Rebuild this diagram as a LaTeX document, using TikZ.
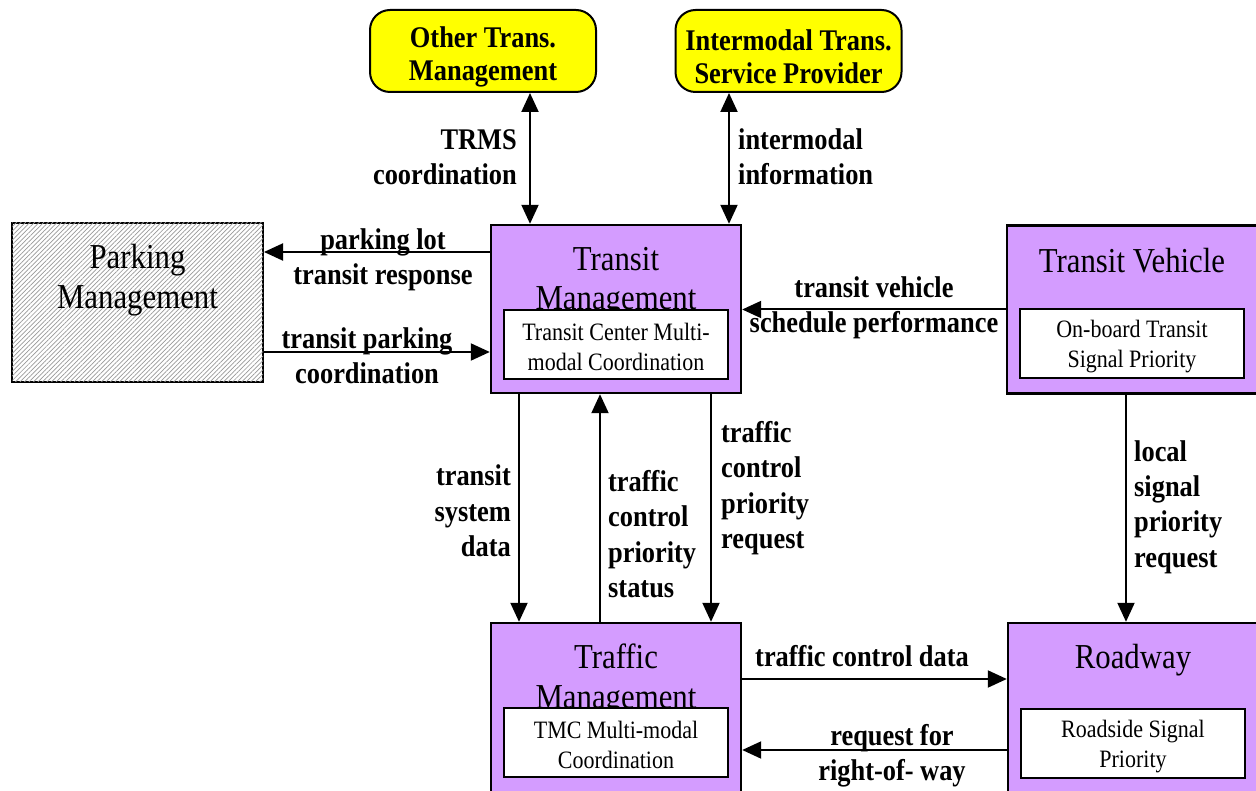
\documentclass[tikz,border=0pt]{standalone}
\usepackage{fontspec}
\setmainfont{Liberation Serif}[FakeStretch=0.88]
\usetikzlibrary{arrows.meta,patterns.meta,calc}
\definecolor{boxpurple}{RGB}{212,156,255}
\definecolor{boxyellow}{RGB}{255,255,0}
\begin{document}
\begin{tikzpicture}[x=1pt,y=-1pt,
  outerbox/.style={draw=black,line width=2.4pt,fill=boxpurple,minimum width=250pt,inner sep=0pt},
  innerbox/.style={draw=black,line width=2pt,fill=white,minimum width=224pt,minimum height=69pt,inner sep=0pt},
  innertext/.style={align=center,inner sep=0pt,font=\fontsize{25}{30}\selectfont},
  termbox/.style={draw=black,line width=2pt,fill=boxyellow,rounded corners=20pt,minimum width=226pt,minimum height=82pt,inner sep=0pt},
  termtext/.style={align=center,inner sep=0pt,font=\bfseries\fontsize{30}{33}\selectfont},
  titletext/.style={align=center,inner sep=0pt,font=\fontsize{35}{39.5}\selectfont},
  flowlabel/.style={inner sep=0pt,font=\bfseries\fontsize{30}{35.3}\selectfont},
  arr/.style={line width=2pt,-{Triangle[length=19pt,width=17pt]}},
  biarr/.style={line width=2pt,{Triangle[length=19pt,width=17pt]}-{Triangle[length=19pt,width=17pt]}}
]
\useasboundingbox (0,0) rectangle (1256,791);
\clip (0,0) rectangle (1256,791);

% terminators
\node[termbox] (otm) at (483,51) {};
\node[termtext] (otmt) at (483,57) {Other Trans.\\Management};
\node[termbox] (ism) at (788.5,51) {};
\node[termtext] (ismt) at (788.5,57) {Intermodal Trans.\\Service Provider};

% parking management
\node[draw=black,line width=2pt,fill=white,minimum width=251pt,minimum height=159pt,inner sep=0pt,
      postaction={pattern={Lines[angle=45,distance=3.2pt,line width=0.7pt]},pattern color=gray!80}] (pm) at (137.5,302.5) {};
\node[titletext] (pmt) at (137.5,280) {Parking\\Management};

% transit management
\node[outerbox,minimum height=168pt] (tm) at (616,309) {};
\node[titletext] (tmt) at (616,282) {Transit\\Management};
\node[innerbox] (tmi) at (616,344.5) {};
\node[innertext] (tmit) at (616,347) {Transit Center Multi-\\modal Coordination};

% transit vehicle (right side runs past the picture edge)
\node[outerbox,minimum width=290pt,minimum height=168pt] (tv) at (1152,309.5) {};
\node[titletext] (tvt) at (1132,261) {Transit Vehicle};
\node[innerbox] (tvi) at (1132,344) {};
\node[innertext] (tvit) at (1132,346.5) {On-board Transit\\Signal Priority};

% traffic management
\node[outerbox,minimum height=176pt] (trm) at (616,711) {};
\node[titletext] (trmt) at (616,680) {Traffic\\Management};
\node[innerbox] (trmi) at (616,742.5) {};
\node[innertext] (trmit) at (616,745) {TMC Multi-modal\\Coordination};

% roadway (right side runs past the picture edge)
\node[outerbox,minimum width=290pt,minimum height=176pt] (rw) at (1153,711) {};
\node[titletext] (rwt) at (1133,660) {Roadway};
\node[innerbox] (rwi) at (1133,743) {};
\node[innertext] (rwit) at (1133,746.5) {Roadside Signal\\Priority};

% connectors
\draw[biarr] ([xshift=47pt]otm.south) -- ([xshift=-86pt]tm.north);
\draw[biarr] ([xshift=-59.5pt]ism.south) -- ([xshift=113pt]tm.north);
\draw[arr] ([yshift=57pt]tm.west) -- ([yshift=50.5pt]pm.east);
\draw[arr] ([yshift=-49.5pt]pm.east) -- ([yshift=-43pt]tm.west);
\draw[arr] (tv.west) -- (tv.west -| tm.east);
\draw[arr] ([xshift=-97pt]tm.south) -- ([xshift=-97pt]trm.north);
\draw[arr] ([xshift=-16pt]trm.north) -- ([xshift=-16pt]tm.south);
\draw[arr] ([xshift=95pt]tm.south) -- ([xshift=95pt]trm.north);
\draw[arr] ([xshift=-26pt]tv.south) -- ([xshift=-26pt]tv.south |- rw.north);
\draw[arr] ([yshift=32pt]trm.east) -- ([yshift=32pt]trm.east -| rw.west);
\draw[arr] ([yshift=-39pt]rw.west) -- ([yshift=-39pt]rw.west -| trm.east);

% labels
\node[flowlabel,align=right,anchor=east] (l1) at (517,157) {TRMS\\coordination};
\node[flowlabel,align=left,anchor=west] (l2) at (738,157) {intermodal\\information};
\node[flowlabel,align=center] (l3) at (383,260) {parking lot\\transit response};
\node[flowlabel,align=center] (l4) at (367,356) {transit parking\\coordination};
\node[flowlabel,align=center] (l5) at (874,308) {transit vehicle\\schedule performance};
\node[flowlabel,align=right,anchor=east] (l6) at (511,511) {transit\\system\\data};
\node[flowlabel,align=left,anchor=west] (l7) at (608,534) {traffic\\control\\priority\\status};
\node[flowlabel,align=left,anchor=west] (l8) at (721,488) {traffic\\control\\priority\\request};
\node[flowlabel,align=left,anchor=west] (l9) at (1134,507) {local\\signal\\priority\\request};
\node[flowlabel,anchor=base] (l10) at (862,666) {traffic control data};
\node[flowlabel,align=center] (l11) at (892,756) {request for\\right-of- way};
\end{tikzpicture}
\end{document}
